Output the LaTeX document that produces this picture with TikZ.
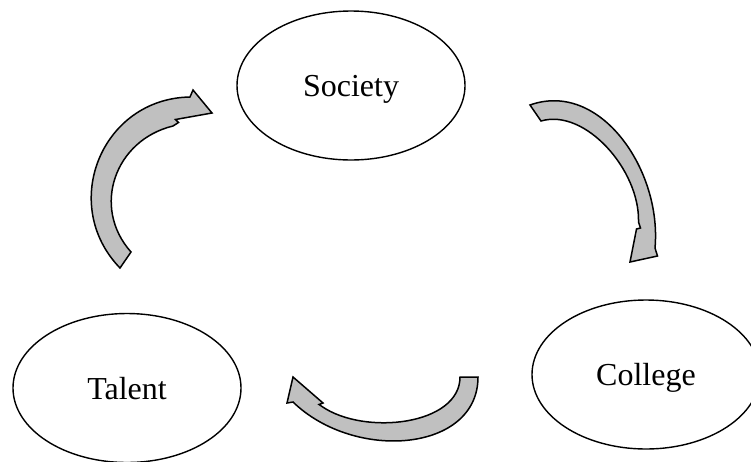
\documentclass[tikz,border=0pt]{standalone}
\usepackage{fontspec}
\setmainfont{Liberation Serif}
\usetikzlibrary{shapes.geometric}
\definecolor{arrowgray}{RGB}{192,192,192}
\tikzset{
  bubble/.style={draw=black, line width=1.4pt, ellipse, inner sep=0pt,
    minimum width=228pt, minimum height=149pt,
    text height=22pt, text depth=0pt,
    font=\fontsize{32}{38}\selectfont},
  blockarrow/.style={draw=black, line width=1.5pt, fill=arrowgray, line join=miter}
}
\begin{document}
\begin{tikzpicture}[x=1pt, y=-1pt]
\useasboundingbox (0,0) rectangle (751,461);
\node[bubble] (society) at (351,85.5) {Society};
\node[bubble] (talent) at (127,388) {Talent};
\node[bubble] (college) at (646,374.5) {College};
% Talent -> Society
\draw[blockarrow] (120,268) .. controls (58.6,204.5) and (101.7,98.5) .. (190,97)
  -- (193,90) -- (212,113) -- (175.5,119.5) -- (178.5,122.5) -- (173,126)
  .. controls (115,140) and (91,207) .. (131,252) -- cycle;
% Society -> College
\draw[blockarrow] (530,105) .. controls (600,80) and (662,170) .. (655,248)
  -- (657.5,256) -- (630,262) -- (636.5,229) -- (640.5,228) -- (638.5,222)
  .. controls (640,170) and (585,108) .. (541,121) -- cycle;
% College -> Talent
\draw[blockarrow] (478,377) .. controls (478,452) and (355,462) .. (293,402)
  -- (287,403) -- (293,377) -- (323,403) -- (319,404.5) -- (322,406.5)
  .. controls (365,436) and (460,425) .. (460,377) -- cycle;
\end{tikzpicture}
\end{document}
